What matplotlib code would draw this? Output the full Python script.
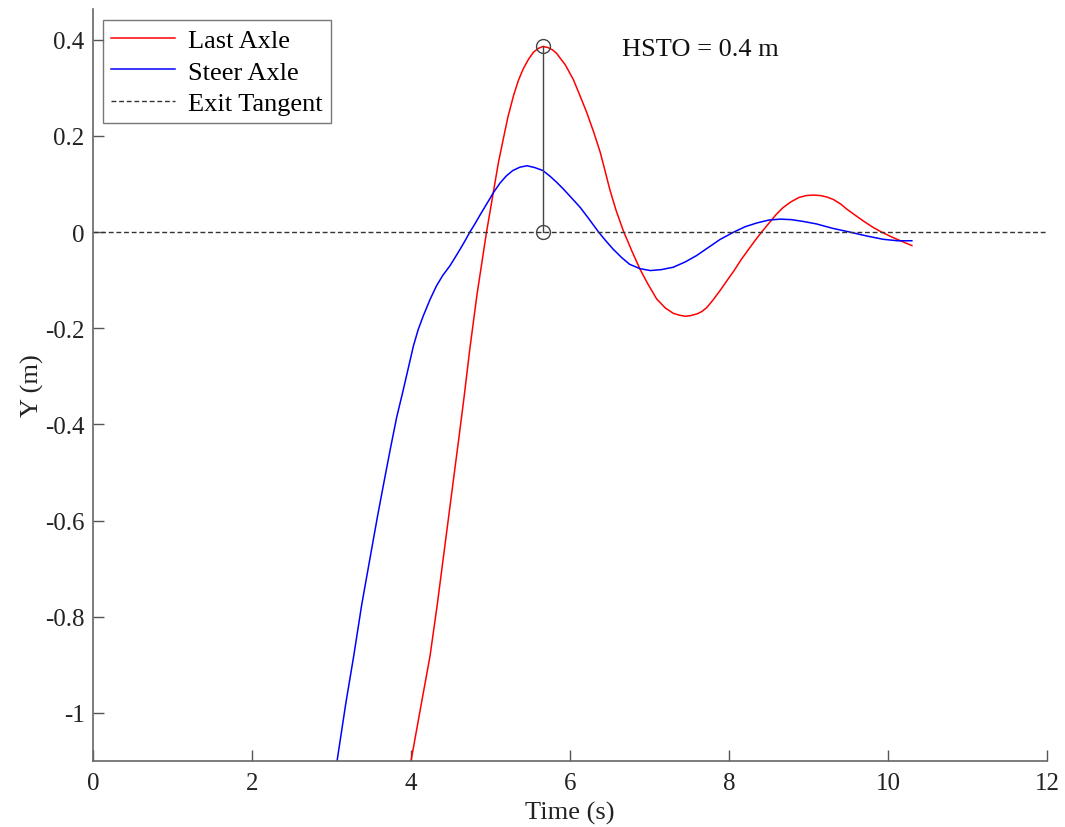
import matplotlib
matplotlib.use("Agg")
import matplotlib.pyplot as plt

# Last Axle (red)
last_t = [4.00, 4.12, 4.24, 4.33, 4.41, 4.53, 4.60, 4.67, 4.74, 4.83, 4.95, 5.04,
          5.10, 5.16, 5.22, 5.29, 5.35, 5.41, 5.48, 5.54, 5.60, 5.66, 5.72, 5.78,
          5.83, 5.94, 6.04, 6.12, 6.21, 6.30, 6.38, 6.44, 6.50, 6.58, 6.67, 6.78,
          6.88, 6.98, 7.09, 7.20, 7.30, 7.38, 7.45, 7.51, 7.60, 7.66, 7.72, 7.80,
          7.89, 7.97, 8.06, 8.15, 8.25, 8.33, 8.41, 8.50, 8.59, 8.68, 8.78, 8.88,
          8.97, 9.06, 9.15, 9.23, 9.31, 9.40, 9.48, 9.58, 9.70, 9.81, 9.92, 10.02,
          10.10, 10.20, 10.30]
last_y = [-1.100, -0.990, -0.881, -0.775, -0.673, -0.520, -0.431, -0.340, -0.243, -0.130,
          0.000, 0.087, 0.145, 0.193, 0.240, 0.284, 0.315, 0.339, 0.360, 0.374,
          0.382, 0.386, 0.384, 0.379, 0.372, 0.348, 0.318, 0.286, 0.249, 0.207,
          0.166, 0.128, 0.089, 0.045, 0.003, -0.040, -0.077, -0.108, -0.139, -0.158,
          -0.169, -0.173, -0.175, -0.174, -0.170, -0.165, -0.157, -0.141, -0.121, -0.102,
          -0.081, -0.058, -0.035, -0.017, 0.000, 0.018, 0.036, 0.051, 0.063, 0.072,
          0.076, 0.077, 0.076, 0.073, 0.068, 0.059, 0.048, 0.036, 0.022, 0.010,
          0.000, -0.008, -0.014, -0.021, -0.028]

# Steer Axle (blue)
steer_t = [3.07, 3.18, 3.28, 3.38, 3.49, 3.58, 3.66, 3.74, 3.82, 3.90, 3.97, 4.03,
           4.09, 4.155, 4.24, 4.32, 4.40, 4.49, 4.55, 4.62, 4.68, 4.74, 4.80, 4.87,
           4.95, 5.04, 5.12, 5.20, 5.28, 5.37, 5.46, 5.56, 5.66, 5.75, 5.83, 5.92,
           6.02, 6.13, 6.24, 6.36, 6.45, 6.54, 6.65, 6.75, 6.88, 7.01, 7.15, 7.30,
           7.45, 7.59, 7.74, 7.89, 8.06, 8.20, 8.35, 8.50, 8.64, 8.78, 8.94, 9.10,
           9.30, 9.52, 9.73, 9.94, 10.12, 10.30]
steer_y = [-1.100, -0.980, -0.881, -0.775, -0.673, -0.590, -0.520, -0.451, -0.385, -0.330,
           -0.280, -0.237, -0.203, -0.174, -0.140, -0.112, -0.090, -0.070, -0.054, -0.035,
           -0.018, 0.000, 0.016, 0.036, 0.058, 0.083, 0.102, 0.117, 0.128, 0.135,
           0.138, 0.134, 0.128, 0.116, 0.104, 0.089, 0.071, 0.051, 0.027, 0.000,
           -0.018, -0.035, -0.053, -0.067, -0.076, -0.080, -0.078, -0.073, -0.062, -0.049,
           -0.032, -0.015, 0.000, 0.011, 0.019, 0.025, 0.027, 0.026, 0.022, 0.017,
           0.008, 0.000, -0.008, -0.015, -0.018, -0.018]

# HSTO marker
hsto_t = [5.66, 5.66]
hsto_y = [0.0, 0.387]
hsto_label = "HSTO = 0.4 m"

xticks = [0, 2, 4, 6, 8, 10, 12]
yticks = [-1, -0.8, -0.6, -0.4, -0.2, 0, 0.2, 0.4]
ytick_labels = ["-1", "-0.8", "-0.6", "-0.4", "-0.2", "0", "0.2", "0.4"]

plt.rcParams['font.family'] = ['Liberation Serif', 'DejaVu Serif']
fs = 19
tfs = 18

fig = plt.figure(figsize=(10.65, 8.28), dpi=100)
ax = fig.add_axes([93 / 1065, 1 - 762 / 828, (1047 - 93) / 1065, (762 - 10) / 828])

ax.plot(last_t, last_y, color='#ff0000', lw=1.1, label='Last Axle')
ax.plot(steer_t, steer_y, color='#0000ff', lw=1.1, label='Steer Axle')
ax.axhline(0, color='#333333', lw=1.0, ls=(0, (3.5, 2)), label='Exit Tangent')
ax.plot(hsto_t, hsto_y, color='#444444', lw=1.0, marker='o', ms=10,
        markerfacecolor='none', markeredgecolor='#444444', markeredgewidth=1.0)
ax.text(6.65, 0.381, hsto_label, fontsize=fs, va='center', ha='left', color='#111111')

ax.set_xlim(0, 12)
ax.set_ylim(-1.1, 0.464)
ax.set_xticks(xticks)
ax.set_xticklabels([str(v) for v in xticks])
ax.set_yticks(yticks)
ax.set_yticklabels(ytick_labels)
ax.tick_params(direction='in', length=8, width=1, colors='#555555', labelcolor='#222222',
               labelsize=tfs, pad=6)
ax.tick_params(axis='x', pad=8)
for s in ['top', 'right']:
    ax.spines[s].set_visible(False)
for s in ['left', 'bottom']:
    ax.spines[s].set_color('#666666')
    ax.spines[s].set_linewidth(1.2)

ax.set_xlabel('Time (s)', fontsize=fs, color='#222222', labelpad=5)
ax.set_ylabel('Y (m)', fontsize=fs, color='#222222', labelpad=1)

leg = ax.legend(loc='upper left', bbox_to_anchor=(0.0105, 0.985), fontsize=fs,
                frameon=True, fancybox=False, edgecolor='#555555', handlelength=2.4,
                borderpad=0.32, labelspacing=0.3, handletextpad=0.5, borderaxespad=0.0)
leg.get_frame().set_linewidth(1.0)

fig.savefig('out.png', dpi=100)
